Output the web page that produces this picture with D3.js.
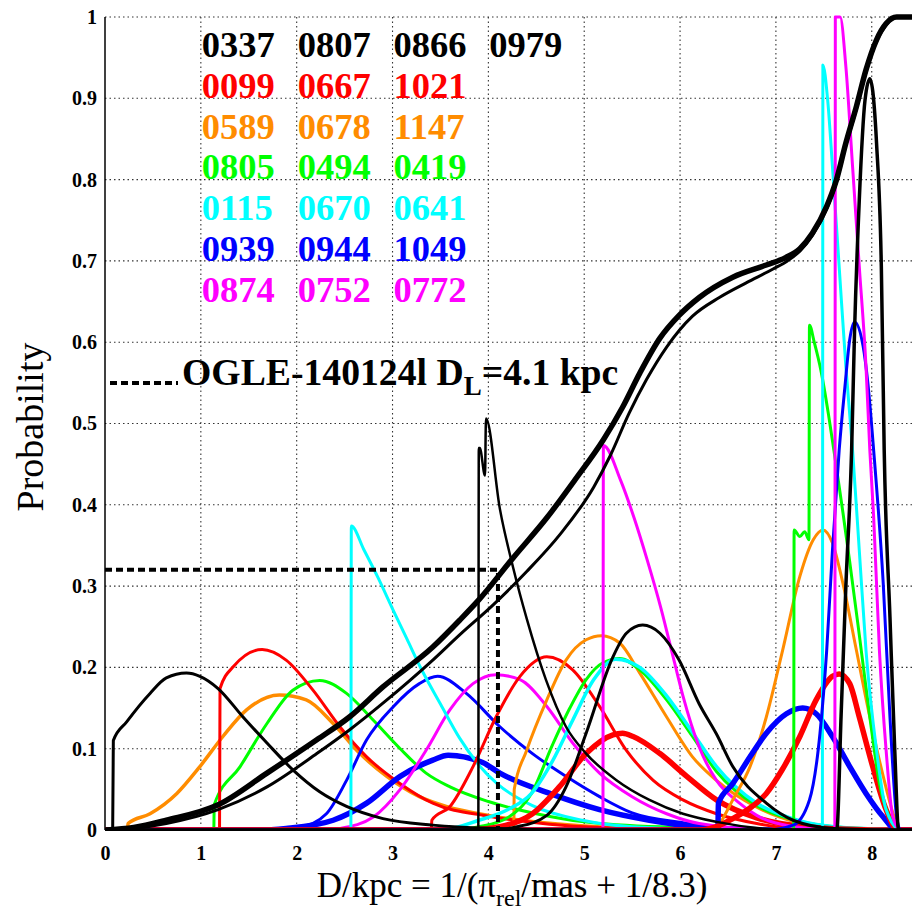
<!DOCTYPE html>
<html><head><meta charset="utf-8">
<script src="https://cdn.jsdelivr.net/npm/d3@7"></script>
<style>body{margin:0;background:#fff}svg{display:block}</style>
</head><body>
<svg id="c" width="914" height="911"></svg>
<script>
// ---------- DATA ----------
const xTicks = [0,1,2,3,4,5,6,7,8];
const yTicks = [0,0.1,0.2,0.3,0.4,0.5,0.6,0.7,0.8,0.9,1];
const xDomain = [0, 8.42];

const black1 = [[0,0],[0.08,0],[0.087,0.11],[0.226,0.133],[0.47,0.168],[0.64,0.187],[0.85,0.193],[0.99,0.189],[1.18,0.174],[1.44,0.139],[1.69,0.107],[1.96,0.074],[2.24,0.047],[2.52,0.029],[2.9,0.014],[3.42,0.006],[4.0,0.002],[5.0,0],[8.42,0]];
const black2 = [[0,0],[3.895,0],[3.9,0.47],[3.91,0.47],[3.965,0.436],[3.975,0.506],[4.12,0.395],[4.26,0.322],[4.4,0.26],[4.6,0.185],[4.81,0.127],[5.02,0.094],[5.34,0.061],[5.68,0.037],[6.03,0.02],[6.38,0.01],[7.2,0],[8.42,0]];
const black3 = [[0,0],[4.0,0],[4.3,0.004],[4.61,0.018],[4.81,0.053],[5.02,0.119],[5.3,0.213],[5.44,0.242],[5.61,0.252],[5.79,0.242],[5.99,0.209],[6.2,0.155],[6.38,0.118],[6.55,0.078],[6.9,0.033],[7.18,0.012],[7.6,0.002],[8.42,0]];
const black4 = [[0,0],[7.635,0],[7.68,0.14],[7.73,0.3],[7.79,0.467],[7.82,0.611],[7.87,0.775],[7.93,0.898],[7.98,0.924],[8.05,0.845],[8.1,0.693],[8.13,0.467],[8.19,0.262],[8.24,0.098],[8.28,0],[8.42,0]];
const red1 = [[0,0],[1.195,0],[1.2,0.174],[1.34,0.201],[1.64,0.222],[1.89,0.209],[2.17,0.172],[2.45,0.127],[2.73,0.09],[3.08,0.057],[3.42,0.033],[4.0,0.017],[4.5,0.009],[5.0,0.004],[6.0,0.001],[8.42,0]];
const red2 = [[0,0],[3.405,0],[3.41,0.012],[3.6,0.029],[3.84,0.078],[4.08,0.139],[4.33,0.189],[4.61,0.213],[4.88,0.197],[5.16,0.152],[5.44,0.098],[5.72,0.061],[6.03,0.037],[6.38,0.02],[6.8,0.008],[7.3,0.001],[8.42,0]];
const red3 = [[0,0],[3.8,0],[4.12,0.004],[4.46,0.02],[4.74,0.053],[5.02,0.094],[5.3,0.117],[5.4,0.119],[5.51,0.115],[5.79,0.094],[6.07,0.066],[6.38,0.037],[6.8,0.015],[7.3,0.004],[8.0,0],[8.42,0]];
const red4 = [[0,0],[6.2,0],[6.4,0.005],[6.55,0.014],[6.73,0.027],[6.9,0.045],[7.07,0.075],[7.25,0.115],[7.42,0.16],[7.59,0.189],[7.66,0.192],[7.77,0.18],[7.87,0.139],[8.01,0.078],[8.15,0.025],[8.27,0],[8.42,0]];
const orange1 = [[0,0],[0.235,0],[0.24,0.008],[0.47,0.02],[0.75,0.045],[0.99,0.078],[1.23,0.115],[1.48,0.148],[1.82,0.166],[2.1,0.16],[2.38,0.131],[2.66,0.094],[2.94,0.066],[3.28,0.041],[3.56,0.029],[4.0,0.018],[4.5,0.01],[5.0,0.005],[6.0,0.001],[8.42,0]];
const orange2 = [[0,0],[4.265,0],[4.27,0.05],[4.4,0.098],[4.61,0.16],[4.81,0.209],[5.02,0.234],[5.18,0.239],[5.37,0.23],[5.58,0.193],[5.86,0.139],[6.13,0.09],[6.38,0.061],[6.8,0.028],[7.2,0.01],[7.7,0.002],[8.42,0]];
const orange3 = [[0,0],[6.38,0],[6.4,0.004],[6.55,0.037],[6.73,0.078],[6.9,0.139],[7.07,0.221],[7.25,0.312],[7.39,0.357],[7.49,0.369],[7.59,0.353],[7.7,0.303],[7.84,0.221],[7.98,0.139],[8.12,0.066],[8.26,0.008],[8.3,0],[8.42,0]];
const green1 = [[0,0],[1.135,0],[1.14,0.031],[1.41,0.078],[1.69,0.131],[1.96,0.172],[2.24,0.184],[2.52,0.168],[2.8,0.135],[3.08,0.1],[3.35,0.07],[3.6,0.053],[4.0,0.035],[4.5,0.02],[5.0,0.01],[6.0,0.003],[7.0,0],[8.42,0]];
const green2 = [[0,0],[3.6,0],[3.9,0.004],[4.2,0.015],[4.45,0.045],[4.67,0.105],[4.85,0.15],[5.02,0.185],[5.2,0.206],[5.37,0.211],[5.58,0.197],[5.86,0.16],[6.13,0.115],[6.38,0.072],[6.8,0.03],[7.2,0.012],[7.7,0.003],[8.42,0]];
const green3 = [[0,0],[7.185,0],[7.19,0.369],[7.25,0.361],[7.3,0.367],[7.345,0.357],[7.35,0.621],[7.4,0.6],[7.47,0.565],[7.55,0.51],[7.62,0.455],[7.7,0.39],[7.77,0.33],[7.87,0.24],[7.98,0.139],[8.08,0.057],[8.22,0.008],[8.3,0],[8.42,0]];
const cyan1 = [[0,0],[2.565,0],[2.57,0.374],[2.7,0.345],[2.85,0.31],[3.0,0.272],[3.15,0.235],[3.3,0.198],[3.5,0.155],[3.7,0.113],[3.9,0.08],[4.1,0.056],[4.46,0.03],[4.98,0.012],[5.5,0.004],[6.5,0],[8.42,0]];
const cyan2 = [[0,0],[3.5,0],[3.9,0.012],[4.2,0.025],[4.45,0.045],[4.67,0.085],[4.88,0.135],[5.1,0.185],[5.33,0.21],[5.58,0.2],[5.86,0.165],[6.13,0.12],[6.38,0.078],[6.8,0.033],[7.2,0.013],[7.7,0.003],[8.42,0]];
const cyan3 = [[0,0],[7.485,0],[7.49,0.941],[7.54,0.898],[7.59,0.816],[7.66,0.693],[7.73,0.57],[7.8,0.467],[7.87,0.344],[7.94,0.221],[8.05,0.098],[8.15,0.025],[8.3,0],[8.42,0]];
const blue1 = [[0,0],[1.8,0],[2.03,0.003],[2.31,0.02],[2.52,0.061],[2.73,0.111],[3.01,0.152],[3.28,0.18],[3.47,0.189],[3.77,0.168],[4.12,0.127],[4.46,0.094],[4.81,0.066],[5.16,0.041],[5.5,0.021],[6.03,0.009],[7.0,0],[8.42,0]];
const blue2 = [[0,0],[1.6,0],[1.89,0.002],[2.38,0.012],[2.73,0.033],[3.08,0.066],[3.42,0.086],[3.58,0.092],[3.94,0.083],[4.12,0.07],[4.64,0.045],[5.16,0.025],[5.68,0.012],[6.2,0.004],[7.0,0],[8.42,0]];
const blue3 = [[0,0],[6.9,0],[7.18,0.006],[7.35,0.037],[7.46,0.119],[7.53,0.221],[7.59,0.344],[7.66,0.467],[7.72,0.545],[7.77,0.603],[7.82,0.625],[7.91,0.595],[7.96,0.549],[8.02,0.467],[8.12,0.303],[8.19,0.139],[8.26,0.016],[8.3,0],[8.42,0]];
const blue4 = [[0,0],[6.395,0],[6.4,0.033],[6.55,0.057],[6.73,0.09],[6.9,0.119],[7.11,0.143],[7.28,0.15],[7.42,0.143],[7.59,0.115],[7.77,0.078],[7.94,0.045],[8.12,0.016],[8.26,0],[8.42,0]];
const magenta1 = [[0,0],[2.3,0],[2.45,0.002],[2.8,0.016],[3.08,0.05],[3.35,0.098],[3.6,0.148],[3.84,0.18],[4.08,0.191],[4.33,0.185],[4.61,0.152],[4.88,0.107],[5.16,0.07],[5.5,0.041],[5.86,0.02],[6.2,0.008],[7.0,0],[8.42,0]];
const magenta2 = [[0,0],[5.195,0],[5.2,0.473],[5.38,0.43],[5.52,0.384],[5.66,0.331],[5.8,0.273],[5.94,0.207],[6.03,0.165],[6.2,0.102],[6.38,0.061],[6.6,0.035],[6.8,0.018],[7.2,0.004],[7.6,0],[8.42,0]];
const magenta3 = [[0,0],[7.615,0],[7.62,1.0],[7.67,1.0],[7.73,0.939],[7.8,0.816],[7.87,0.693],[7.94,0.57],[7.98,0.467],[8.02,0.385],[8.08,0.221],[8.15,0.098],[8.22,0.016],[8.3,0],[8.42,0]];
const cumThick = [[0,0],[0.3,0.003],[0.64,0.012],[1.18,0.031],[1.69,0.07],[2.21,0.111],[2.55,0.139],[2.9,0.176],[3.42,0.225],[3.7,0.258],[3.9,0.283],[4.26,0.335],[4.61,0.384],[4.9,0.43],[5.2,0.48],[5.4,0.52],[5.58,0.562],[5.79,0.605],[5.99,0.633],[6.2,0.655],[6.55,0.68],[6.9,0.695],[7.1,0.704],[7.25,0.715],[7.38,0.734],[7.53,0.767],[7.63,0.799],[7.73,0.845],[7.84,0.89],[7.94,0.935],[8.05,0.972],[8.15,0.992],[8.26,1.0],[8.42,1.0]];
const cumThin = [[0,0],[0.3,0.002],[0.64,0.008],[1.18,0.025],[1.69,0.053],[2.21,0.094],[2.55,0.123],[2.9,0.156],[3.42,0.209],[3.7,0.24],[4.05,0.277],[4.4,0.318],[4.75,0.364],[5.1,0.422],[5.27,0.46],[5.47,0.513],[5.65,0.554],[5.86,0.594],[6.13,0.632],[6.41,0.655],[6.69,0.673],[6.97,0.69],[7.12,0.7],[7.25,0.712],[7.38,0.731],[7.53,0.764],[7.63,0.796],[7.73,0.842],[7.84,0.887],[7.94,0.932],[8.05,0.97],[8.15,0.99],[8.26,1.0],[8.42,1.0]];

const legendRows = [
  ["0337","0807","0866","0979"],
  ["0099","0667","1021"],
  ["0589","0678","1147"],
  ["0805","0494","0419"],
  ["0115","0670","0641"],
  ["0939","0944","1049"],
  ["0874","0752","0772"]
];
const eventName = "OGLE-140124l";
const eventDL = 4.1;
const eventProb = 0.32;

// ---------- STYLE ----------
const C = {black:"#000000", red:"#ff0000", orange:"#ff8c00", green:"#00ff00", cyan:"#00ffff", blue:"#0000ff", magenta:"#ff00ff"};
const rowColors = [C.black, C.red, C.orange, C.green, C.cyan, C.blue, C.magenta];
const series = [
  {d:orange1,c:C.orange,w:3.5},{d:green1,c:C.green,w:3},{d:red1,c:C.red,w:3},
  {d:blue2,c:C.blue,w:5.5},{d:blue1,c:C.blue,w:3},{d:magenta1,c:C.magenta,w:3},{d:cyan1,c:C.cyan,w:3},
  {d:red2,c:C.red,w:3},{d:orange2,c:C.orange,w:3},{d:green2,c:C.green,w:3},{d:cyan2,c:C.cyan,w:3.5},
  {d:red3,c:C.red,w:5.5},{d:magenta2,c:C.magenta,w:3},
  {d:orange3,c:C.orange,w:3},{d:blue4,c:C.blue,w:5.5},{d:red4,c:C.red,w:5.5},
  {d:green3,c:C.green,w:3},{d:cyan3,c:C.cyan,w:3},{d:blue3,c:C.blue,w:3},{d:magenta3,c:C.magenta,w:3},
  {d:black1,c:C.black,w:3},{d:black2,c:C.black,w:2.5},{d:black3,c:C.black,w:3},{d:black4,c:C.black,w:3.5},
  {d:cumThin,c:C.black,w:3},{d:cumThick,c:C.black,w:5.5}
];

const L=105, R=912, T=17, B=830;
const serif = "'Liberation Serif','Times New Roman',serif";
const svg = d3.select("#c");
const x = d3.scaleLinear().domain(xDomain).range([L,R]);
const y = d3.scaleLinear().domain([0,1]).range([B,T]);

// grid
const grid = svg.append("g").attr("stroke","#333").attr("stroke-width",1.1).attr("stroke-dasharray","1.5,3");
xTicks.filter(v=>v>0).forEach(v=>grid.append("line").attr("x1",x(v)).attr("x2",x(v)).attr("y1",T).attr("y2",B));
yTicks.filter(v=>v>0).forEach(v=>grid.append("line").attr("x1",L).attr("x2",R).attr("y1",y(v)).attr("y2",y(v)));

// axes
const xAxis = svg.append("g").attr("transform",`translate(0,${B})`)
  .call(d3.axisBottom(x).tickValues(xTicks).tickSize(0).tickPadding(12).tickFormat(d3.format("d")));
const yAxis = svg.append("g").attr("transform",`translate(${L},0)`)
  .call(d3.axisLeft(y).tickValues(yTicks).tickSize(0).tickPadding(8).tickFormat(d=>d===0||d===1?String(d):d3.format(".1f")(d)));
[xAxis,yAxis].forEach(a=>{a.select(".domain").remove();
  a.selectAll("text").attr("font-family",serif).attr("font-weight","bold").attr("font-size",20).attr("fill","#000");});
xAxis.selectAll("text").attr("dy","0.9em");
svg.append("line").attr("x1",L).attr("x2",L).attr("y1",T).attr("y2",B).attr("stroke","#000").attr("stroke-width",1.5);
svg.append("line").attr("x1",L).attr("x2",R).attr("y1",B).attr("y2",B).attr("stroke","#000").attr("stroke-width",2);

// clip
svg.append("clipPath").attr("id","clip").append("rect").attr("x",L).attr("y",T-3).attr("width",R-L).attr("height",B-T+3);

// curves
const line = d3.line().x(d=>x(d[0])).y(d=>y(d[1])).curve(d3.curveMonotoneX);
const cg = svg.append("g").attr("clip-path","url(#clip)");
series.forEach(s=>cg.append("path").attr("d",line(s.d)).attr("fill","none")
  .attr("stroke",s.c).attr("stroke-width",s.w).attr("stroke-linejoin","round").attr("stroke-linecap","butt"));

// event guide lines
const guide = svg.append("g").attr("stroke","#000").attr("stroke-width",4).attr("stroke-dasharray","7,4").attr("fill","none");
guide.append("path").attr("d",d3.line()([[x(0),y(eventProb)],[x(eventDL),y(eventProb)],[x(eventDL),y(0)]]));

// legend numbers
legendRows.forEach((row,i)=>{
  row.forEach((lab,j)=>{
    svg.append("text").attr("x",x(1+j)+1).attr("y",57+i*40.8)
      .attr("font-family",serif).attr("font-weight","bold").attr("font-size",36.5)
      .attr("fill",rowColors[i]).text(lab);
  });
});

// event legend
svg.append("line").attr("x1",110).attr("x2",178).attr("y1",383).attr("y2",383)
  .attr("stroke","#000").attr("stroke-width",4).attr("stroke-dasharray","7,4");
const ev = svg.append("text").attr("x",182).attr("y",385).attr("font-family",serif).attr("font-weight","bold").attr("font-size",37.7).attr("fill","#000");
ev.append("tspan").text(eventName+" D");
ev.append("tspan").attr("font-size",27).attr("dy",10).text("L");
ev.append("tspan").attr("dy",-10).text("="+eventDL+" kpc");

// axis titles
const xt = svg.append("text").attr("x",512).attr("y",897).attr("text-anchor","middle")
  .attr("font-family",serif).attr("font-size",35).attr("fill","#000");
xt.append("tspan").text("D/kpc = 1/(π");
xt.append("tspan").attr("font-size",24).attr("dy",9).text("rel");
xt.append("tspan").attr("dy",-9).text("/mas + 1/8.3)");
svg.append("text").attr("transform","translate(43,427) rotate(-90)").attr("text-anchor","middle")
  .attr("font-family",serif).attr("font-size",38).attr("fill","#000").text("Probability");
</script>
</body></html>
